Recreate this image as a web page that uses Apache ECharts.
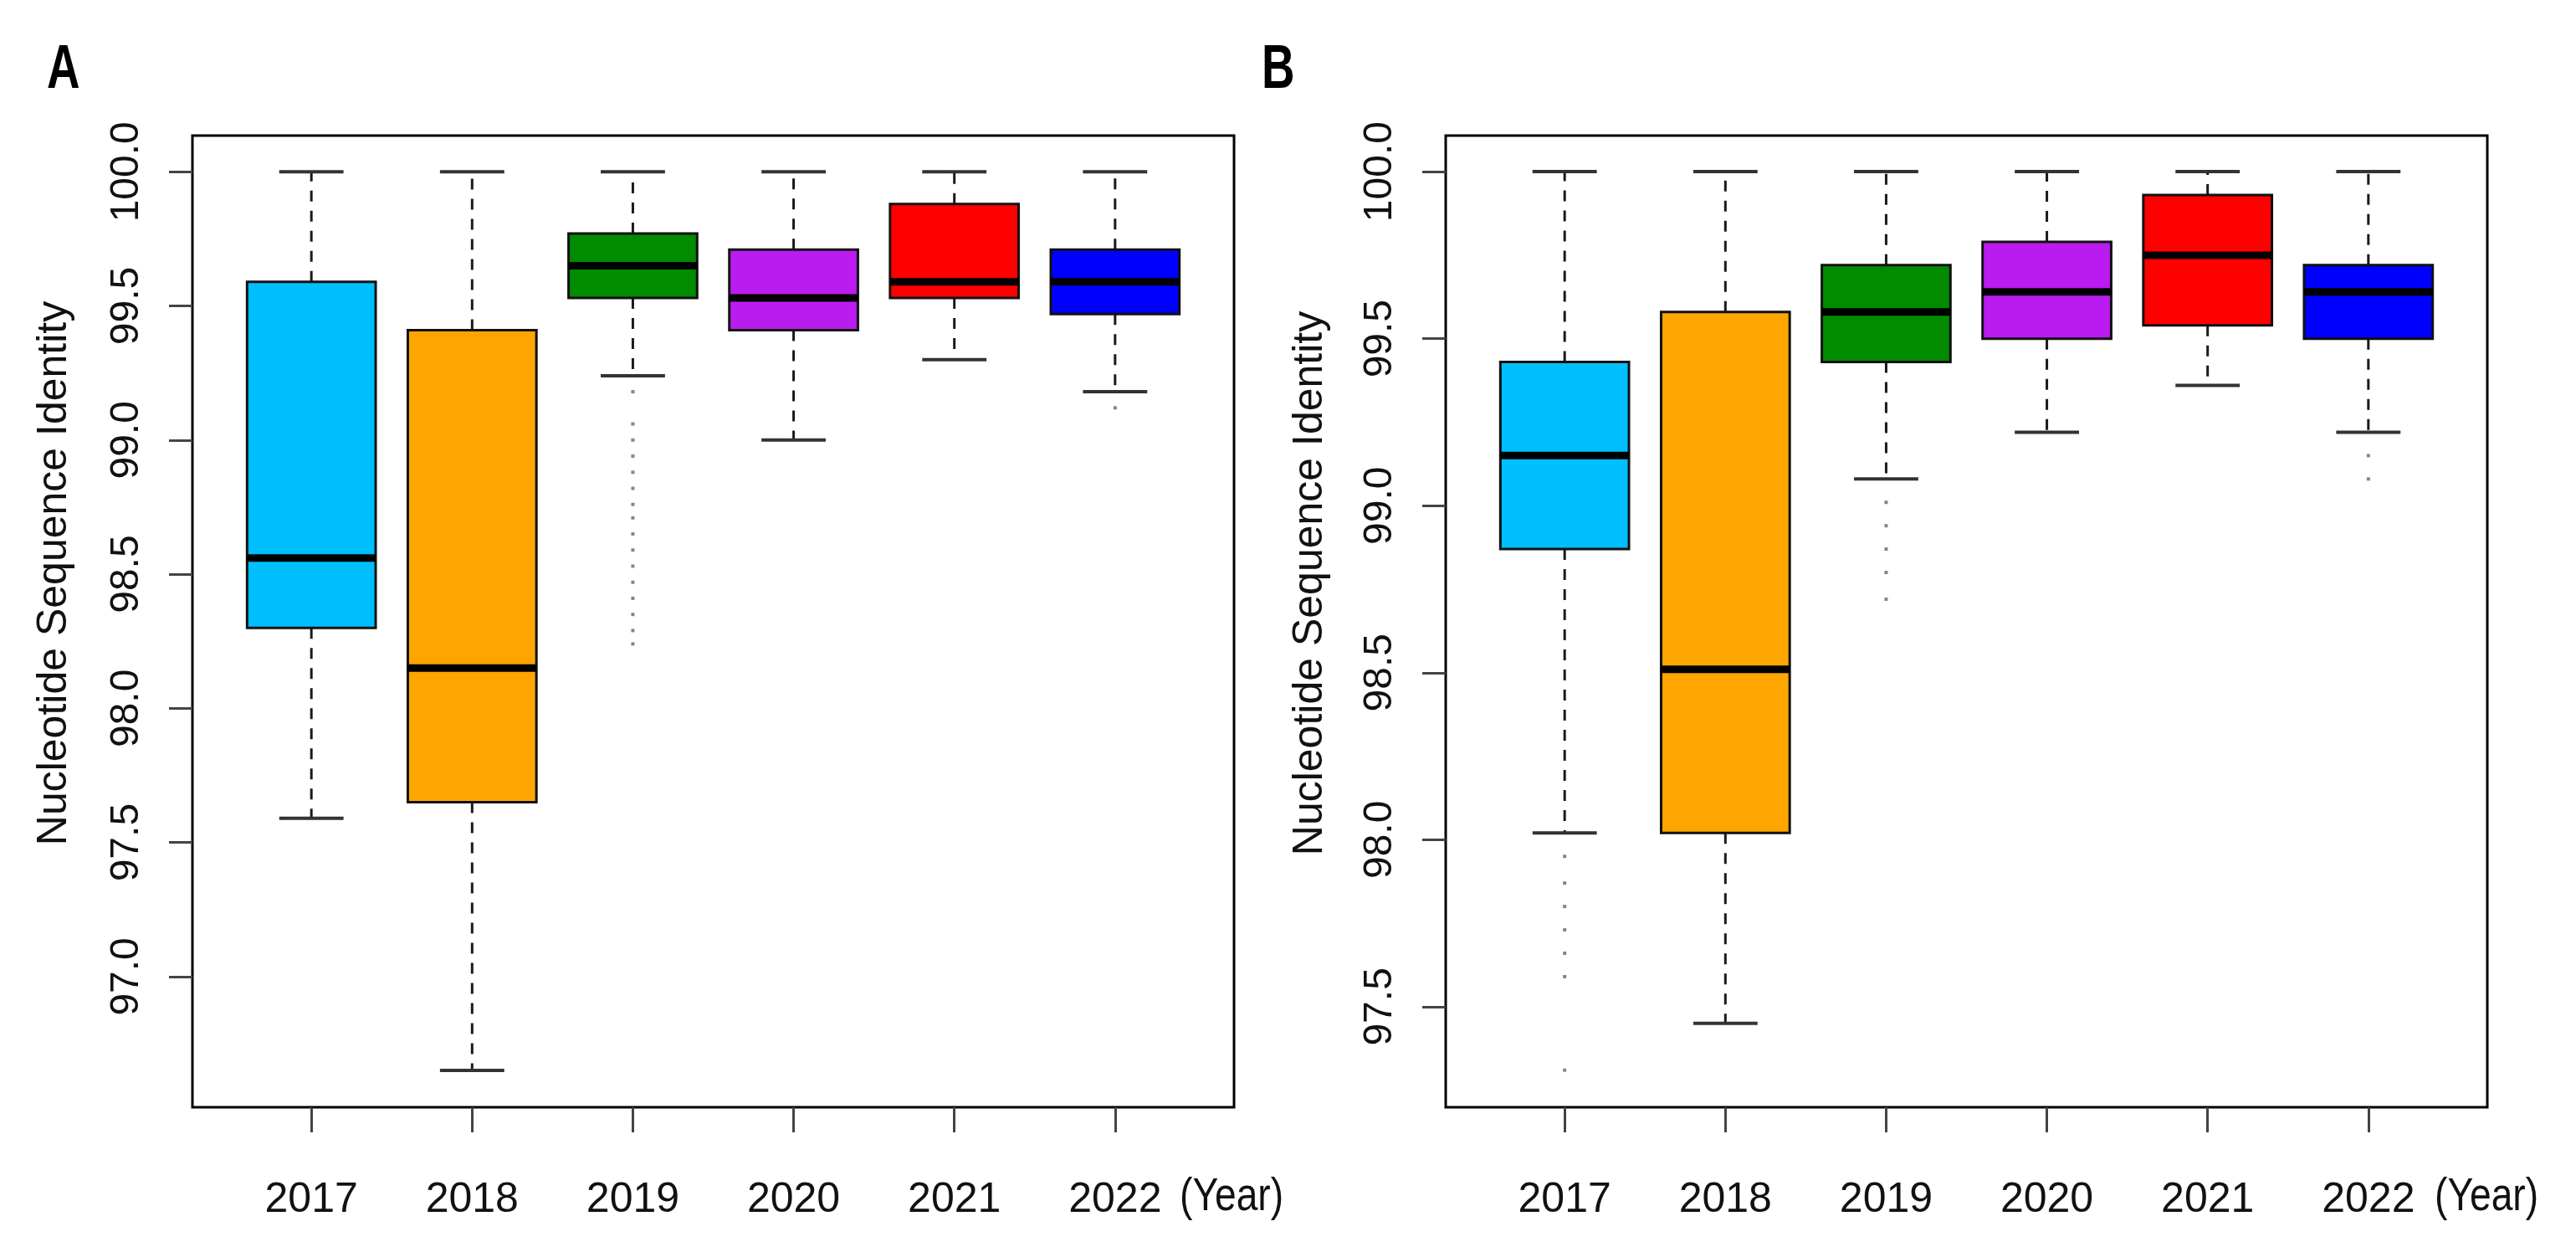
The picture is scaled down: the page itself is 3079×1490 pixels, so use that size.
<!DOCTYPE html>
<html>
<head>
<meta charset="utf-8">
<script src="https://cdn.jsdelivr.net/npm/echarts@6/dist/echarts.min.js"></script>
<style>
html,body{margin:0;padding:0;background:#fff;}
#chart{width:3079px;height:1490px;}
</style>
</head>
<body>
<div id="chart"></div>
<script>
// ---------- data ----------
const years = ['2017', '2018', '2019', '2020', '2021', '2022'];
const yTicks = [97.0, 97.5, 98.0, 98.5, 99.0, 99.5, 100.0];

// Panel A : whisker low, Q1, median, Q3, whisker high
const A_low    = [97.59, 96.65, 99.24, 99.00, 99.30, 99.18];
const A_q1     = [98.30, 97.65, 99.53, 99.41, 99.53, 99.47];
const A_median = [98.56, 98.15, 99.65, 99.53, 99.59, 99.59];
const A_q3     = [99.59, 99.41, 99.77, 99.71, 99.88, 99.71];
const A_high   = [100.0, 100.0, 100.0, 100.0, 100.0, 100.0];
const A_out2019 = [99.18, 99.06, 99.00, 98.94, 98.88, 98.82, 98.76, 98.71, 98.65, 98.59, 98.53, 98.47, 98.41, 98.35, 98.29, 98.24];
const A_out2022 = [99.12];

// Panel B
const B_low    = [98.02, 97.45, 99.08, 99.22, 99.36, 99.22];
const B_q1     = [98.87, 98.02, 99.43, 99.50, 99.54, 99.50];
const B_median = [99.15, 98.51, 99.58, 99.64, 99.75, 99.64];
const B_q3     = [99.43, 99.58, 99.72, 99.79, 99.93, 99.72];
const B_high   = [100.0, 100.0, 100.0, 100.0, 100.0, 100.0];
const B_out2017 = [97.95, 97.87, 97.80, 97.73, 97.66, 97.59, 97.31];
const B_out2019 = [99.01, 98.94, 98.87, 98.80, 98.72];
const B_out2022 = [99.15, 99.08];

// ---------- styles ----------
const boxColors = ['#00BFFF', '#FFA500', '#008B00', '#BA1CEF', '#FF0000', '#0000FF'];
const FONT = '"Liberation Sans", Arial, sans-serif';

function boxData(lo, q1, md, q3, hi) {
  return years.map((y, i) => [i + 1, lo[i], q1[i], md[i], q3[i], hi[i]]);
}
function outData(list) {
  const res = [];
  list.forEach(([idx, vals]) => vals.forEach(v => res.push([idx, v])));
  return res;
}

function renderBox(params, api) {
  const x = api.value(0);
  const pLo = api.coord([x, api.value(1)]);
  const pQ1 = api.coord([x, api.value(2)]);
  const pMd = api.coord([x, api.value(3)]);
  const pQ3 = api.coord([x, api.value(4)]);
  const pHi = api.coord([x, api.value(5)]);
  const unit = api.size([1, 0])[0];
  const bw = unit * 0.8, cw = unit * 0.4;
  const cx = pMd[0];
  const dash = {stroke: '#1a1a1a', lineWidth: 3, lineDash: [13, 11]};
  const cap = {stroke: '#333', lineWidth: 4};
  return {
    type: 'group',
    children: [
      {type: 'line', shape: {x1: cx, y1: pQ3[1], x2: cx, y2: pHi[1]}, style: dash},
      {type: 'line', shape: {x1: cx, y1: pQ1[1], x2: cx, y2: pLo[1]}, style: dash},
      {type: 'line', shape: {x1: cx - cw / 2, y1: pHi[1], x2: cx + cw / 2, y2: pHi[1]}, style: cap},
      {type: 'line', shape: {x1: cx - cw / 2, y1: pLo[1], x2: cx + cw / 2, y2: pLo[1]}, style: cap},
      {type: 'rect', shape: {x: cx - bw / 2, y: pQ3[1], width: bw, height: pQ1[1] - pQ3[1]},
        style: {fill: boxColors[params.dataIndex], stroke: '#111', lineWidth: 3}},
      {type: 'line', shape: {x1: cx - bw / 2, y1: pMd[1], x2: cx + bw / 2, y2: pMd[1]},
        style: {stroke: '#000', lineWidth: 9}}
    ]
  };
}

const grids = [
  {left: 230, top: 162, width: 1245, height: 1161},
  {left: 1728, top: 162, width: 1245, height: 1161}
];
const yRanges = [[96.513, 100.135], [97.199, 100.108]];

function xAxisCfg(i) {
  return {
    type: 'value', gridIndex: i, min: 0.26, max: 6.74,
    axisLine: {show: false},
    splitLine: {show: false},
    axisTick: {show: true, customValues: [1, 2, 3, 4, 5, 6], length: 30, lineStyle: {color: '#444', width: 3}},
    axisLabel: {
      customValues: [1, 2, 3, 4, 5, 6],
      formatter: v => years[Math.round(v) - 1],
      fontFamily: FONT, fontSize: 50, color: '#111', margin: 86
    }
  };
}
function yAxisCfg(i) {
  return {
    type: 'value', gridIndex: i, min: yRanges[i][0], max: yRanges[i][1],
    axisLine: {show: false},
    splitLine: {show: false},
    axisTick: {show: true, customValues: yTicks, length: 28, lineStyle: {color: '#444', width: 3}},
    axisLabel: {
      customValues: yTicks, rotate: 90,
      formatter: v => v.toFixed(1),
      fontFamily: FONT, fontSize: 48, color: '#111', margin: 54
    }
  };
}

const option = {
  backgroundColor: '#fff',
  animation: false,
  grid: grids.map(g => Object.assign({show: true, borderColor: '#000', borderWidth: 3, backgroundColor: 'transparent'}, g)),
  xAxis: [xAxisCfg(0), xAxisCfg(1)],
  yAxis: [yAxisCfg(0), yAxisCfg(1)],
  series: [
    {type: 'custom', xAxisIndex: 0, yAxisIndex: 0, renderItem: renderBox,
      encode: {x: 0, y: [1, 2, 3, 4, 5]}, data: boxData(A_low, A_q1, A_median, A_q3, A_high), z: 2},
    {type: 'custom', xAxisIndex: 1, yAxisIndex: 1, renderItem: renderBox,
      encode: {x: 0, y: [1, 2, 3, 4, 5]}, data: boxData(B_low, B_q1, B_median, B_q3, B_high), z: 2},
    {type: 'scatter', xAxisIndex: 0, yAxisIndex: 0, symbol: 'rect', symbolSize: 4,
      itemStyle: {color: '#666'}, data: outData([[3, A_out2019], [6, A_out2022]]), z: 3},
    {type: 'scatter', xAxisIndex: 1, yAxisIndex: 1, symbol: 'rect', symbolSize: 4,
      itemStyle: {color: '#666'}, data: outData([[1, B_out2017], [3, B_out2019], [6, B_out2022]]), z: 3}
  ],
  graphic: [
    {type: 'text', x: 56, y: 48, scaleX: 0.74,
      style: {text: 'A', font: 'bold 74px ' + FONT, fill: '#000', align: 'left', verticalAlign: 'top'}},
    {type: 'text', x: 1508, y: 48, scaleX: 0.74,
      style: {text: 'B', font: 'bold 74px ' + FONT, fill: '#000', align: 'left', verticalAlign: 'top'}},
    {type: 'text', x: 65, y: 685, rotation: Math.PI / 2,
      style: {text: 'Nucleotide Sequence Identity', font: '50px ' + FONT, fill: '#111', align: 'center', verticalAlign: 'middle'}},
    {type: 'text', x: 1566, y: 697, rotation: Math.PI / 2,
      style: {text: 'Nucleotide Sequence Identity', font: '50px ' + FONT, fill: '#111', align: 'center', verticalAlign: 'middle'}},
    {type: 'text', x: 1410, y: 1431, scaleX: 0.84,
      style: {text: '(Year)', font: '55px ' + FONT, fill: '#111', align: 'left', verticalAlign: 'middle'}},
    {type: 'text', x: 2910, y: 1431, scaleX: 0.84,
      style: {text: '(Year)', font: '55px ' + FONT, fill: '#111', align: 'left', verticalAlign: 'middle'}}
  ]
};

const chart = echarts.init(document.getElementById('chart'), null, {renderer: 'canvas'});
chart.setOption(option);
</script>
</body>
</html>
